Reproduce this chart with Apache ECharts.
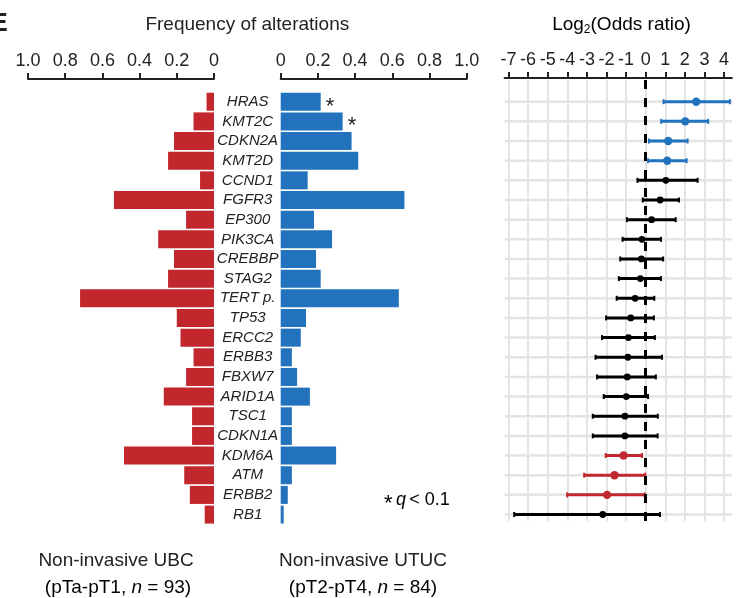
<!DOCTYPE html>
<html>
<head>
<meta charset="utf-8">
<script src="https://cdn.jsdelivr.net/npm/echarts@6/dist/echarts.min.js"></script>
<style>
html, body { margin: 0; padding: 0; background: #fff; }
#main { width: 749px; height: 598px; }
</style>
</head>
<body>
<div id="main"></div>
<script>
// genes, top to bottom
var genes = ['HRAS', 'KMT2C', 'CDKN2A', 'KMT2D', 'CCND1', 'FGFR3', 'EP300', 'PIK3CA', 'CREBBP', 'STAG2', 'TERT p.',
	'TP53', 'ERCC2', 'ERBB3', 'FBXW7', 'ARID1A', 'TSC1', 'CDKN1A', 'KDM6A', 'ATM', 'ERBB2', 'RB1'];
// frequency of alterations, non-invasive UBC (n = 93)
var freqUBC = [0.04, 0.11, 0.215, 0.247, 0.075, 0.538, 0.15, 0.30, 0.215, 0.247, 0.72,
	0.20, 0.18, 0.11, 0.15, 0.27, 0.118, 0.118, 0.484, 0.16, 0.13, 0.05];
// frequency of alterations, UTUC (n = 84)
var freqUTUC = [0.215, 0.333, 0.381, 0.417, 0.145, 0.665, 0.179, 0.276, 0.19, 0.215, 0.635,
	0.136, 0.108, 0.06, 0.088, 0.157, 0.06, 0.06, 0.298, 0.06, 0.038, 0.016];
// significance marks next to UTUC bars
var sigMark = ['*', '*', '', '', '', '', '', '', '', '', '', '', '', '', '', '', '', '', '', '', '', ''];
// log2 odds ratio with confidence interval
var logOR = [2.58, 2.02, 1.15, 1.10, 1.03, 0.74, 0.30, -0.19, -0.22, -0.27, -0.54,
	-0.76, -0.88, -0.91, -0.94, -0.99, -1.06, -1.06, -1.13, -1.59, -1.97, -2.19];
var ciLow = [0.91, 0.79, 0.17, 0.12, -0.42, -0.15, -0.96, -1.18, -1.30, -1.37, -1.48,
	-2.02, -2.23, -2.56, -2.48, -2.14, -2.70, -2.70, -2.04, -3.14, -4.01, -6.71];
var ciHigh = [4.30, 3.19, 2.14, 2.09, 2.65, 1.70, 1.53, 0.78, 0.89, 0.78, 0.44,
	0.42, 0.47, 0.83, 0.52, 0.12, 0.62, 0.61, -0.19, -0.02, -0.05, 0.73];
// 0 = not significant, 1 = enriched in UTUC, 2 = enriched in UBC
var orGroup = [1, 1, 1, 1, 0, 0, 0, 0, 0, 0, 0, 0, 0, 0, 0, 0, 0, 0, 2, 2, 2, 0];
var freqTicks = [0, 0.2, 0.4, 0.6, 0.8, 1.0];
var orTicks = [-7, -6, -5, -4, -3, -2, -1, 0, 1, 2, 3, 4];

var RED = '#C1272D';
var BLUE = '#2272BE';
var groupColor = ['#000000', BLUE, RED];
var FONT = 'Liberation Sans, Arial, Helvetica, sans-serif';

var forestData = [];
for (var i = 0; i < genes.length; i++) {
	forestData.push([i, logOR[i], ciLow[i], ciHigh[i], orGroup[i]]);
}

function renderForest(params, api) {
	var row = api.value(0);
	var p = api.coord([api.value(1), row]);
	var lo = api.coord([api.value(2), row]);
	var hi = api.coord([api.value(3), row]);
	var cs = params.coordSys;
	var col = groupColor[api.value(4)];
	var y = p[1];
	return {
		type: 'group',
		children: [{
			type: 'line',
			shape: { x1: cs.x, y1: y, x2: cs.x + cs.width, y2: y },
			style: { stroke: '#e4e4e4', lineWidth: 2.5 }
		}, {
			type: 'line',
			shape: { x1: lo[0], y1: y, x2: hi[0], y2: y },
			style: { stroke: col, lineWidth: 3 }
		}, {
			type: 'line',
			shape: { x1: lo[0], y1: y - 2.5, x2: lo[0], y2: y + 2.5 },
			style: { stroke: col, lineWidth: 2 }
		}, {
			type: 'line',
			shape: { x1: hi[0], y1: y - 2.5, x2: hi[0], y2: y + 2.5 },
			style: { stroke: col, lineWidth: 2 }
		}, {
			type: 'circle',
			shape: { cx: p[0], cy: y, r: api.value(4) === 0 ? 3.4 : 4.2 },
			style: { fill: col }
		}]
	};
}

var tickLabelStyle = { fontFamily: FONT, fontSize: 18, color: '#222' };
var freqFormatter = function(v) { return v === 0 ? '0' : v.toFixed(1); };

var myChart = echarts.init(document.getElementById('main'));
var option = {
	animation: false,
	grid: [
		{ left: 28, width: 186, top: 91.9, height: 432.5 },
		{ left: 280.7, width: 186, top: 91.9, height: 432.5 },
		{ left: 504.6, width: 227.3, top: 80, height: 441 }
	],
	xAxis: [{
		gridIndex: 0, type: 'value', position: 'top', offset: 13, inverse: true,
		min: 0, max: 1, interval: 0.2,
		axisLine: { show: true, onZero: false, lineStyle: { color: '#222', width: 2 } },
		axisTick: { show: true, length: 6, lineStyle: { color: '#222', width: 2 } },
		axisLabel: Object.assign({ margin: 9, formatter: freqFormatter }, tickLabelStyle),
		splitLine: { show: false }
	}, {
		gridIndex: 1, type: 'value', position: 'top', offset: 13,
		min: 0, max: 1, interval: 0.2,
		axisLine: { show: true, onZero: false, lineStyle: { color: '#222', width: 2 } },
		axisTick: { show: true, length: 6, lineStyle: { color: '#222', width: 2 } },
		axisLabel: Object.assign({ margin: 9, formatter: freqFormatter }, tickLabelStyle),
		splitLine: { show: false }
	}, {
		gridIndex: 2, type: 'value', position: 'top', offset: 2,
		min: -7.2, max: 4.4,
		axisLine: { show: true, onZero: false, lineStyle: { color: '#222', width: 2 } },
		axisTick: { show: true, length: 6, customValues: orTicks, lineStyle: { color: '#222', width: 2 } },
		axisLabel: Object.assign({ margin: 9, customValues: orTicks }, tickLabelStyle),
		splitLine: { show: true, lineStyle: { color: '#e4e4e4', width: 2 } }
	}],
	yAxis: [{
		gridIndex: 0, type: 'category', inverse: true, data: genes,
		axisLine: { show: false }, axisTick: { show: false }, axisLabel: { show: false }
	}, {
		gridIndex: 1, type: 'category', inverse: true, data: genes,
		axisLine: { show: false }, axisTick: { show: false },
		axisLabel: {
			show: true, interval: 0, align: 'center', margin: 33,
			fontFamily: FONT, fontSize: 15, fontStyle: 'italic', color: '#222'
		}
	}, {
		gridIndex: 2, type: 'value', inverse: true, min: -1.104, max: 21.33, show: false
	}],
	series: [{
		type: 'bar', xAxisIndex: 0, yAxisIndex: 0, data: freqUBC, barWidth: 18,
		itemStyle: { color: RED }
	}, {
		type: 'bar', xAxisIndex: 1, yAxisIndex: 1, data: freqUTUC, barWidth: 18,
		itemStyle: { color: BLUE },
		label: {
			show: true, position: 'right', distance: 5, offset: [0, 5],
			fontFamily: FONT, fontSize: 22, color: '#222',
			formatter: function(p) { return sigMark[p.dataIndex]; }
		}
	}, {
		type: 'custom', xAxisIndex: 2, yAxisIndex: 2, data: forestData,
		encode: { x: [1, 2, 3], y: 0 },
		renderItem: renderForest,
		z: 3,
		markLine: {
			silent: true, symbol: 'none', label: { show: false },
			lineStyle: { type: [9, 9], color: '#000', width: 3 },
			data: [{ xAxis: 0 }]
		}
	}],
	graphic: [
		{ type: 'text', x: -9, y: 24, style: { text: 'E', font: 'bold 25px ' + FONT, fill: '#222', verticalAlign: 'middle' } },
		{ type: 'text', x: 247.3, y: 25, style: { text: 'Frequency of alterations', font: '19px ' + FONT, fill: '#222', align: 'center', verticalAlign: 'middle' } },
		{
			type: 'text', x: 621.5, y: 25,
			style: {
				text: '{a|Log}{s|2}{a|(Odds ratio)}', align: 'center', verticalAlign: 'middle',
				rich: {
					a: { fontFamily: FONT, fontSize: 19, lineHeight: 22, color: '#222' },
					s: { fontFamily: FONT, fontSize: 12, lineHeight: 10, verticalAlign: 'bottom', color: '#222' }
				}
			}
		},
		{
			type: 'text', x: 384, y: 500,
			style: {
				text: '{st|*} {i|q} {n|< 0.1}', verticalAlign: 'middle',
				rich: {
					st: { fontFamily: FONT, fontSize: 22, color: '#222', padding: [8, 0, 0, 0] },
					i: { fontFamily: FONT, fontSize: 18, fontStyle: 'italic', color: '#222' },
					n: { fontFamily: FONT, fontSize: 18, color: '#222' }
				}
			}
		},
		{ type: 'text', x: 116, y: 561, style: { text: 'Non-invasive UBC', font: '19px ' + FONT, fill: '#222', align: 'center', verticalAlign: 'middle' } },
		{
			type: 'text', x: 118, y: 588,
			style: {
				text: '{n|(pTa-pT1, }{i|n}{n| = 93)}', align: 'center', verticalAlign: 'middle',
				rich: {
					n: { fontFamily: FONT, fontSize: 19, color: '#222' },
					i: { fontFamily: FONT, fontSize: 19, fontStyle: 'italic', color: '#222' }
				}
			}
		},
		{ type: 'text', x: 363, y: 561, style: { text: 'Non-invasive UTUC', font: '19px ' + FONT, fill: '#222', align: 'center', verticalAlign: 'middle' } },
		{
			type: 'text', x: 363, y: 588,
			style: {
				text: '{n|(pT2-pT4, }{i|n}{n| = 84)}', align: 'center', verticalAlign: 'middle',
				rich: {
					n: { fontFamily: FONT, fontSize: 19, color: '#222' },
					i: { fontFamily: FONT, fontSize: 19, fontStyle: 'italic', color: '#222' }
				}
			}
		}
	]
};
myChart.setOption(option);
window.onresize = function() {
	myChart.resize();
};
</script>
</body>
</html>
